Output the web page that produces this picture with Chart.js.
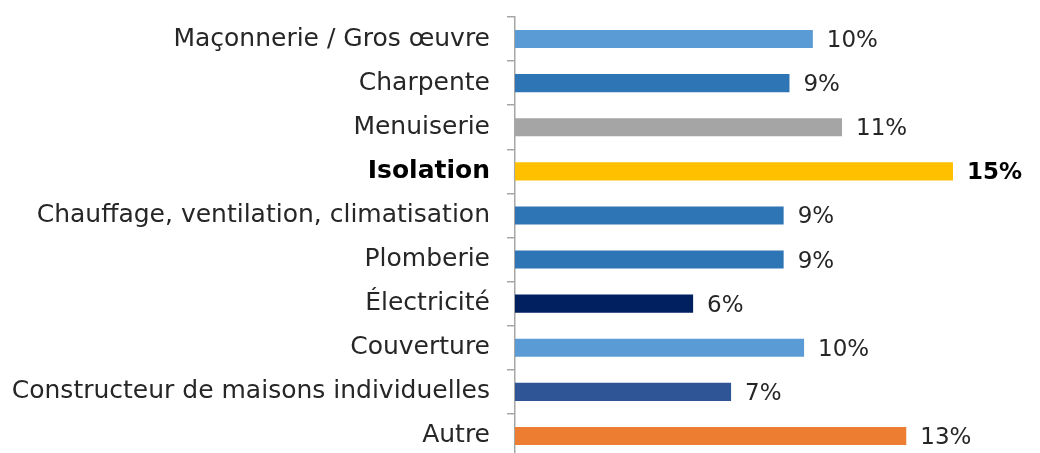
<!DOCTYPE html>
<html>
<head>
<meta charset="utf-8">
<script src="https://cdn.jsdelivr.net/npm/chart.js@4"></script>
<style>
  html, body { margin: 0; padding: 0; background: #fff; overflow: hidden; }
  canvas { display: block; }
</style>
</head>
<body>
<canvas id="chart" width="1040" height="460"></canvas>
<script>
// Categories, top to bottom
const categories = [
    'Maçonnerie / Gros œuvre',
    'Charpente',
    'Menuiserie',
    'Isolation',
    'Chauffage, ventilation, climatisation',
    'Plomberie',
    'Électricité',
    'Couverture',
    'Constructeur de maisons individuelles',
    'Autre'
];
// Share of respondents (%)
const shares = [10.2, 9.4, 11.2, 15.0, 9.2, 9.2, 6.1, 9.9, 7.4, 13.4];
const barColors = ['#5B9BD5', '#2E75B6', '#A5A5A5', '#FFC000', '#2E75B6',
                   '#2E75B6', '#002060', '#5B9BD5', '#2F5597', '#ED7D31'];
const highlighted = 3; // Isolation is in bold

const FONT = 'DejaVu Sans';

// Draw the percentage next to each bar
const valueLabels = {
    id: 'valueLabels',
    afterDatasetsDraw(chart) {
        const ctx = chart.ctx;
        const meta = chart.getDatasetMeta(0);
        ctx.save();
        ctx.textBaseline = 'middle';
        ctx.textAlign = 'left';
        meta.data.forEach((bar, i) => {
            const bold = i === highlighted;
            ctx.font = (bold ? 'bold ' : '') + '23px "' + FONT + '"';
            ctx.fillStyle = bold ? '#000' : '#262626';
            ctx.fillText(Math.round(shares[i]) + '%', bar.x + 14, bar.y + 2);
        });
        ctx.restore();
    }
};

const ctx = document.getElementById('chart').getContext('2d');
new Chart(ctx, {
    type: 'bar',
    data: {
        labels: categories,
        datasets: [{
            data: shares,
            backgroundColor: barColors,
            borderWidth: 0,
            categoryPercentage: 1,
            barPercentage: 0.41
        }]
    },
    options: {
        indexAxis: 'y',
        responsive: false,
        animation: false,
        layout: { padding: { top: 17, right: 87, bottom: 2, left: 0 } },
        plugins: {
            legend: { display: false },
            tooltip: { enabled: false }
        },
        scales: {
            x: { display: false, min: 0, max: 15 },
            y: {
                afterFit: s => {
                    s.width = 515;
                    s.paddingTop = 0;
                    s.paddingBottom = 0;
                },
                border: { display: true, color: '#A6A6A6', width: 1.5 },
                grid: {
                    drawOnChartArea: false,
                    drawTicks: true,
                    tickLength: 8,
                    color: '#A6A6A6',
                    lineWidth: 1.5
                },
                ticks: {
                    padding: 17,
                    color: c => c.index === highlighted ? '#000' : '#262626',
                    font: c => ({
                        family: FONT,
                        size: 25,
                        weight: c.index === highlighted ? 'bold' : 'normal'
                    })
                }
            }
        }
    },
    plugins: [valueLabels]
});
</script>
</body>
</html>
